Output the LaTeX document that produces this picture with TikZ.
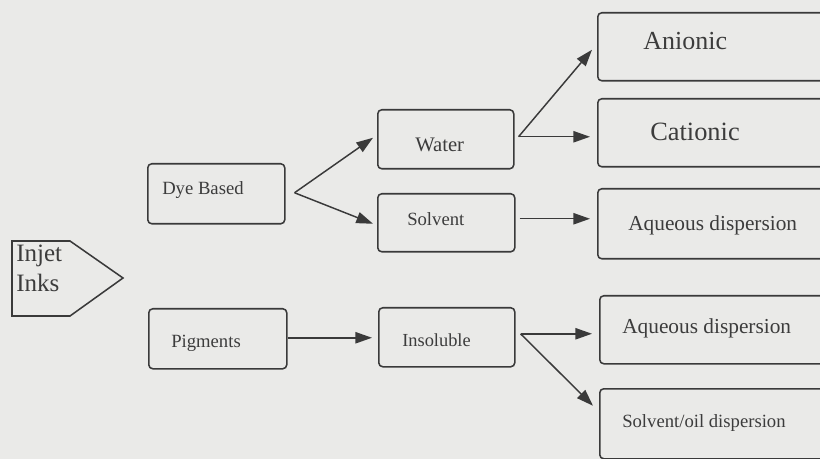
\documentclass[tikz,border=0pt]{standalone}
\usepackage{fontspec}
\setmainfont{Liberation Serif}
\usetikzlibrary{arrows.meta,calc}
\newdimen\pxu \pxu=0.75pt
\definecolor{bg}{RGB}{234,234,232}
\definecolor{ink}{RGB}{58,58,58}
\definecolor{txt}{RGB}{60,60,60}
\tikzset{
  box/.style={draw=ink, line width=1.15pt, rounded corners=3pt, inner sep=0pt,
    anchor=north west, minimum width=137\pxu, minimum height=59\pxu},
  rbox/.style={draw=ink, line width=1.15pt, rounded corners=3pt, inner sep=0pt,
    anchor=north west, minimum width=320\pxu},
  lab/.style={text=txt, inner sep=0pt, anchor=west},
  arr/.style={draw=ink, line width=1.1pt, -{Triangle[length=12.5pt,width=8.5pt]}},
}
\begin{document}
\begin{tikzpicture}[x=0.75pt, y=-0.75pt]
\useasboundingbox (0,0) rectangle (820,459);
\clip (0,0) rectangle (820,459);
\fill[bg] (0,0) rectangle (820,459);

% Injet Inks pentagon
\draw[ink, line width=1.15pt] (12,241) -- (70,241) -- (123,278) -- (70,316) -- (12,316) -- cycle;
\node[lab, align=left, font=\fontsize{18.75pt}{22.5pt}\selectfont] (inj) at (16,268.5) {Injet\\Inks};

% left column
\node[box, minimum height=60\pxu] (dye) at (147,163) {};
\node[lab, font=\fontsize{14pt}{16pt}\selectfont] (dyet) at (162,190) {Dye Based};
\node[box, minimum width=138\pxu, minimum height=60\pxu] (pig) at (148,308) {};
\node[lab, font=\fontsize{14pt}{16pt}\selectfont] (pigt) at (171,343) {Pigments};

% middle column
\node[box, minimum width=136\pxu] (wat) at (377,109) {};
\node[lab, font=\fontsize{15.5pt}{17pt}\selectfont] (watt) at (415,144.5) {Water};
\node[box, minimum height=58\pxu] (sol) at (377,193) {};
\node[lab, font=\fontsize{14pt}{16pt}\selectfont] (solt) at (407,219) {Solvent};
\node[box, minimum width=136\pxu] (ins) at (378,307) {};
\node[lab, font=\fontsize{13.8pt}{16pt}\selectfont] (inst) at (402,340) {Insoluble};

% right column
\node[rbox, minimum height=68\pxu] (ani) at (597,12) {};
\node[lab, font=\fontsize{19.5pt}{22pt}\selectfont] (anit) at (643,41.5) {Anionic};
\node[rbox, minimum height=68\pxu] (cat) at (597,98) {};
\node[lab, font=\fontsize{19.8pt}{22pt}\selectfont] (catt) at (650,131.5) {Cationic};
\node[rbox, minimum height=70\pxu] (aqu) at (597,188) {};
\node[lab, font=\fontsize{16pt}{18pt}\selectfont] (aqut) at (628,225) {Aqueous dispersion};
\node[rbox, minimum height=68\pxu] (aql) at (599,295) {};
\node[lab, font=\fontsize{16pt}{18pt}\selectfont] (aqlt) at (622,328.5) {Aqueous dispersion};
\node[rbox, minimum height=70\pxu] (soi) at (599,388) {};
\node[lab, font=\fontsize{14pt}{16pt}\selectfont] (soit) at (622,423.5) {Solvent/oil dispersion};

% connectors
\coordinate (ds) at ($(dye.east)+(9,-1)$);
\draw[arr] (ds) -- ($(wat.west)+(-4,-1.5)$);
\draw[arr] (ds) -- ($(sol.west)+(-4,1)$);
\draw[arr] ($(pig.east)+(0,-1)$) -- ($(ins.west)+(-6,0.5)$);
\coordinate (ws) at ($(wat.east)+(4,-2.5)$);
\draw[arr] (ws) -- ($(ani.west)+(-5,3)$);
\draw[arr] (ws) -- ($(cat.west)+(-7,4)$);
\draw[arr] ($(sol.east)+(4,-4)$) -- ($(aqu.west)+(-7,-5)$);
\coordinate (is) at ($(ins.east)+(5,-3.5)$);
\draw[arr] (is) -- ($(aql.west)+(-7,4)$);
\draw[arr] (is) -- ($(soi.west)+(-6,-18)$);
\end{tikzpicture}
\end{document}
